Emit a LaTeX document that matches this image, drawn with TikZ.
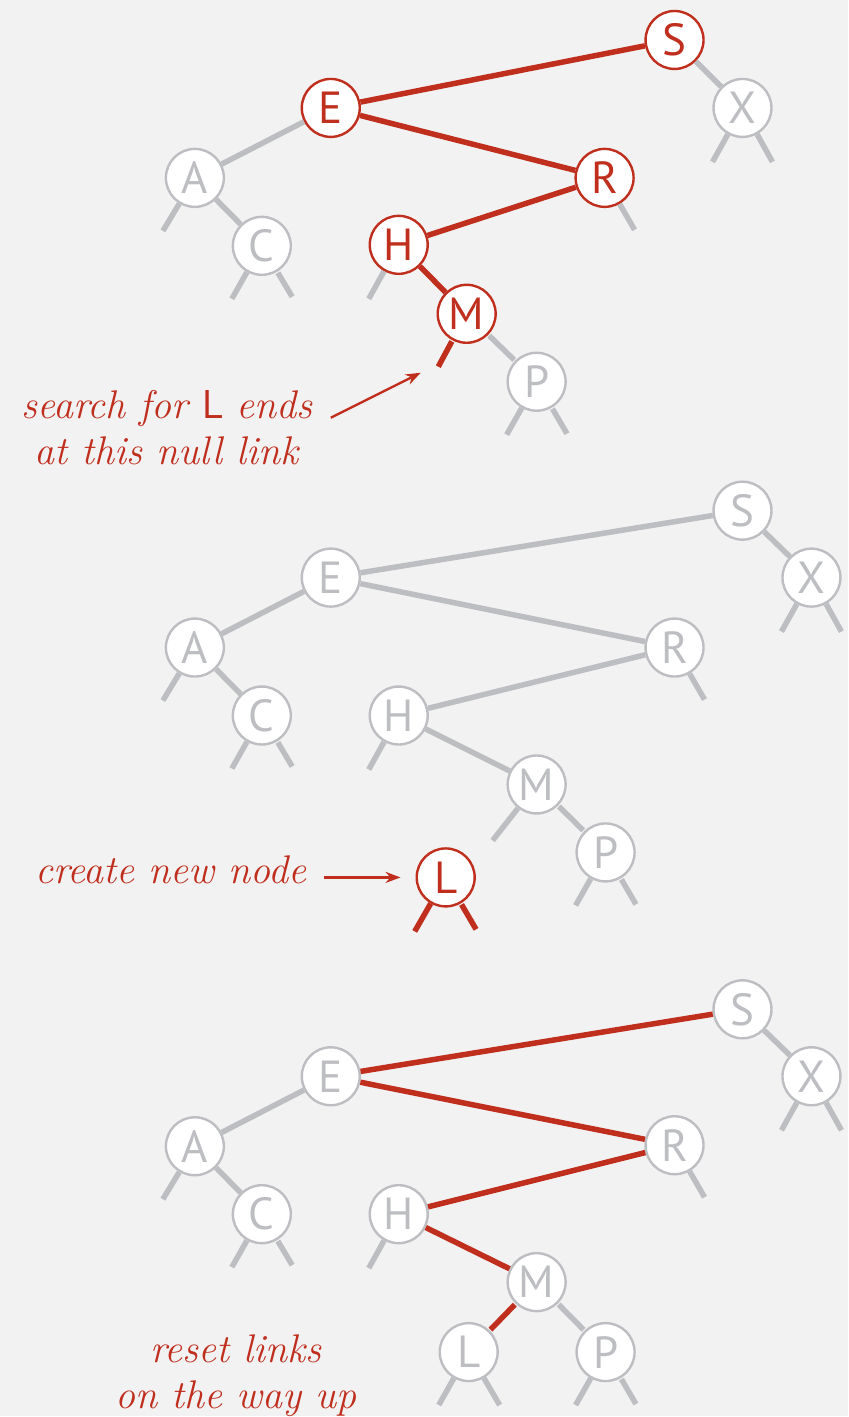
\documentclass[tikz,border=0pt]{standalone}
\usepackage{fontspec}
\newfontfamily\keyfont{PT Sans}
\usetikzlibrary{arrows.meta}
\definecolor{paper}{RGB}{242,242,242}
\definecolor{lgray}{RGB}{189,190,194}
\definecolor{bred}{RGB}{192,46,30}
\tikzset{
  knode/.style={circle, draw=lgray, fill=white, line width=2.4pt, minimum size=58pt, inner sep=0pt, text=lgray, font=\keyfont\fontsize{45}{45}\selectfont},
  rnode/.style={knode, draw=bred, text=bred},
  glink/.style={lgray, line width=5.5pt, shorten <=1.2pt, shorten >=1.2pt},
  rlink/.style={glink, bred},
  pointer/.style={bred, line width=2.4pt, -{Stealth[length=15pt,width=11pt]}},
  note/.style={text=bred, align=center, inner sep=0pt, font=\itshape\fontsize{40}{46}\selectfont}
}

\begin{document}
\begin{tikzpicture}[x=1pt,y=-1pt]
    \fill[paper] (0,0) rectangle (849,1417);

    \node[rnode] (S1) at (675,40) {S};
    \node[knode] (X1) at (743,108) {X};
    \node[rnode] (E1) at (331,108) {E};
    \node[knode] (A1) at (195,178) {A};
    \node[rnode] (R1) at (605,178) {R};
    \node[knode] (C1) at (262,246) {C};
    \node[rnode] (H1) at (399,245) {H};
    \node[rnode] (M1) at (467,314) {M};
    \node[knode] (P1) at (537,382) {P};
    \draw[rlink] (S1) -- (E1) (E1) -- (R1) (R1) -- (H1) (H1) -- (M1) (M1) -- +(-29,54);
    \draw[glink] (S1) -- (X1) (E1) -- (A1) (A1) -- (C1) (M1) -- (P1);
    \draw[glink] (X1) -- +(-30,54) (X1) -- +(30,54) (A1) -- +(-32,53) (C1) -- +(-30,53) (C1) -- +(31,52);
    \draw[glink] (R1) -- +(30,52) (H1) -- +(-30,54) (P1) -- +(-30,53) (P1) -- +(31,53);
    \node[note] (search) at (167,428) {search for {\upshape\keyfont L} ends\\at this null link};
    \coordinate (tip) at (421,373);
    \draw[pointer] ([xshift=18pt,yshift=10pt]search.east) -- (tip);

    \node[knode] (S2) at (743,511) {S};
    \node[knode] (X2) at (812,578) {X};
    \node[knode] (E2) at (331,578) {E};
    \node[knode] (A2) at (195,648) {A};
    \node[knode] (R2) at (675,648) {R};
    \node[knode] (C2) at (262,716) {C};
    \node[knode] (H2) at (399,716) {H};
    \node[knode] (M2) at (537,785) {M};
    \node[knode] (P2) at (606,853) {P};
    \node[rnode] (L2) at (446,878) {L};
    \draw[glink] (S2) -- (E2) (S2) -- (X2) (E2) -- (A2) (E2) -- (R2) (A2) -- (C2) (R2) -- (H2) (H2) -- (M2) (M2) -- (P2);
    \draw[glink] (X2) -- +(-30,54) (X2) -- +(30,54) (A2) -- +(-32,53) (C2) -- +(-30,53) (C2) -- +(31,52);
    \draw[glink] (R2) -- +(30,52) (H2) -- +(-30,54) (M2) -- +(-44,56) (P2) -- +(-30,53) (P2) -- +(31,53);
    \draw[rlink] (L2) -- +(-31,54) (L2) -- +(31,53);
    \node[note] (create) at (171,870) {create new node};
    \draw[pointer, shorten <=17pt, shorten >=15pt] (create.east |- L2) -- (L2);

    \node[knode] (S3) at (743,1010) {S};
    \node[knode] (X3) at (812,1077) {X};
    \node[knode] (E3) at (331,1077) {E};
    \node[knode] (A3) at (195,1147) {A};
    \node[knode] (R3) at (675,1146) {R};
    \node[knode] (C3) at (262,1215) {C};
    \node[knode] (H3) at (399,1215) {H};
    \node[knode] (M3) at (537,1283) {M};
    \node[knode] (L3) at (469,1353) {L};
    \node[knode] (P3) at (606,1353) {P};
    \draw[rlink] (S3) -- (E3) (E3) -- (R3) (R3) -- (H3) (H3) -- (M3) (M3) -- (L3);
    \draw[glink] (S3) -- (X3) (E3) -- (A3) (A3) -- (C3) (M3) -- (P3);
    \draw[glink] (X3) -- +(-30,54) (X3) -- +(30,54) (A3) -- +(-32,53) (C3) -- +(-30,53) (C3) -- +(31,52);
    \draw[glink] (R3) -- +(30,52) (H3) -- +(-30,54) (L3) -- +(-30,53) (L3) -- +(31,53) (P3) -- +(-30,53) (P3) -- +(31,53);
    \node[note] (reset) at (236,1377) {reset links\\on the way up};
\end{tikzpicture}
\end{document}
